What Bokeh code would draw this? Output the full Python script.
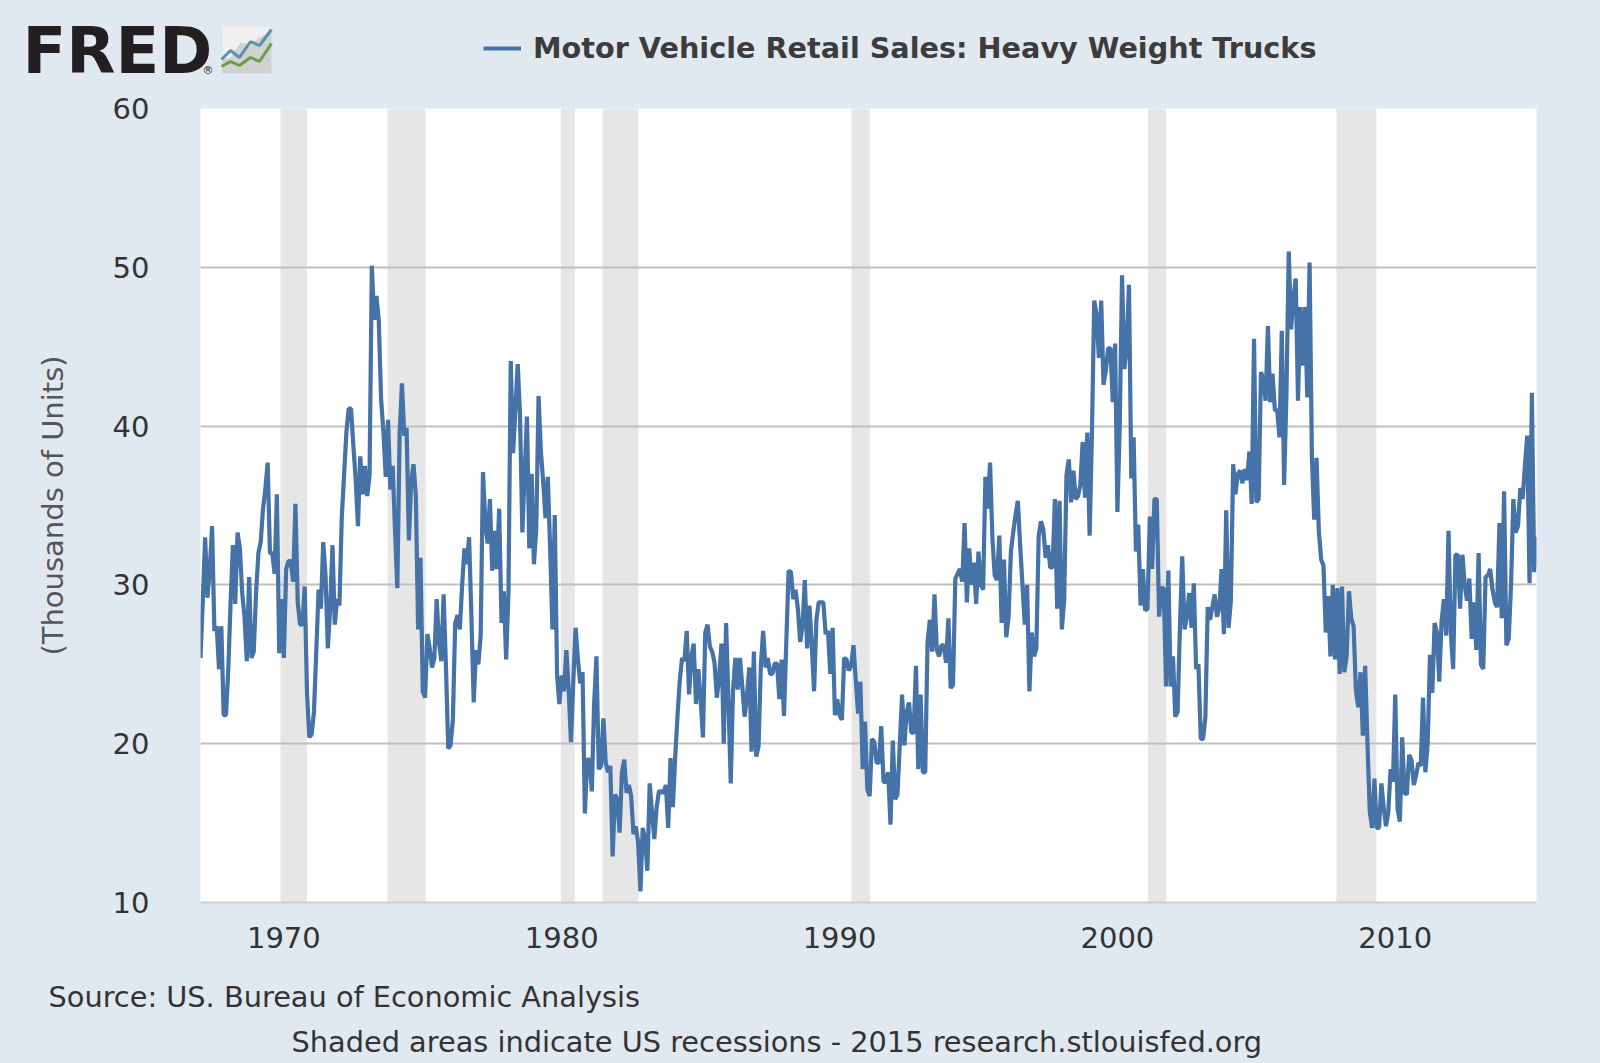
from bokeh.plotting import figure
from bokeh.embed import file_html
from bokeh.resources import INLINE
from bokeh.layouts import column
from bokeh.core.properties import value
from bokeh.models import FixedTicker, Range1d, Legend, LegendItem

title = "Motor Vehicle Retail Sales: Heavy Weight Trucks"
y_label = "(Thousands of Units)"
source = "Source: US. Bureau of Economic Analysis"
note = "Shaded areas indicate US recessions - 2015 research.stlouisfed.org"
x_ticks = [1970, 1980, 1990, 2000, 2010]
y_ticks = [10, 20, 30, 40, 50, 60]
start_year = 1967

rec_start = [1969.88, 1973.73, 1979.97, 1981.47, 1990.43, 2001.10, 2007.88]
rec_end = [1970.83, 1975.10, 1980.47, 1982.76, 1991.10, 2001.76, 2009.32]

s1 = [25.4,29.0,33.0,29.2,31.0,33.7,27.1,27.4,24.7,27.4,
      21.8,21.8,24.7,28.9,32.5,28.8,33.3,32.3,29.5,28.0,
      25.2,30.5,25.4,25.8,29.5,32.0,32.7,34.8,36.0,37.7,
      32.0,32.0,30.7,35.7,25.7,29.1,25.4,31.0,31.5,31.5,
      30.2,35.1,28.9,27.5,27.5,29.9,23.2,20.4,20.6,22.0,
      25.8,29.7,28.5,32.7,30.6,26.0,28.5,32.5,27.5,29.1,
      28.7,34.2,36.9,39.6,41.1,41.1,38.8,36.7,33.7,38.1,
      35.7,37.5,35.6,36.9,50.1,46.7,48.2,46.6,41.7,39.6,
      36.8,40.4,36.0]
s2 = [37.5,33.5,29.8,39.5,42.7,39.4,39.9,32.8,36.5,37.6,
      35.6,27.2,31.7,23.3,22.9,26.9,26.0,24.8,25.4,29.1,
      26.4,25.2,29.4,24.9,19.7,19.9,21.5,27.6,28.1,27.2,
      30.0,32.3,31.3,33.0,28.0,22.6,25.9,25.0,26.8,37.1,
      34.0,32.6,35.4,30.9,33.4,31.0,34.8,27.6,29.6,25.3,
      29.5,44.1,38.3,41.0,43.9,40.7,33.3,37.0,40.6,32.3,
      37.0,31.3,33.5,41.9,38.4,36.5,34.2,36.8,32.3,27.2,
      34.4,24.3,22.5,24.3,23.3,25.9,23.4,20.1,23.9,27.3,
      25.3,23.8]
s3 = [24.5,15.6,19.0,19.0,17.0,22.5,25.5,18.4,18.6,21.6,
      18.8,18.2,18.6,12.9,16.8,16.5,14.4,18.2,19.0,16.9,
      17.4,16.7,14.3,14.8,13.8,10.7,14.7,14.0,12.0,17.5,
      15.7,14.0,16.0,17.0,17.0,16.9,17.4,14.7,19.1,16.0,
      19.1,21.7,24.0,25.4,25.2,27.1,23.1,25.5,26.3,22.5,
      24.7,22.8,20.4,27.0,27.5,26.1,25.8,25.1,22.9,24.2,
      26.3,20.0,27.6,22.8,17.5,23.4,25.4,23.4,25.4,23.6,
      21.7,23.0,24.8,19.5,25.8,19.2,19.8,24.9,27.1,24.8,
      25.4,24.4]
s4 = [24.4,25.05,25.05,22.8,25.3,21.75,26.4,30.9,30.8,29.1,
      29.7,28.5,26.4,27.4,30.3,26.0,28.7,26.2,23.3,27.8,
      28.9,28.9,28.9,26.9,27.1,24.4,27.3,21.8,22.8,21.8,
      21.5,25.4,25.3,24.6,24.9,26.2,24.0,21.9,23.9,18.4,
      21.4,17.1,16.7,20.3,20.1,18.8,18.8,21.1,17.6,17.6,
      18.2,14.9,20.2,16.5,16.8,19.9,23.1,19.9,22.0,22.6,
      20.7,20.7,24.9,18.4,23.1,18.2,18.2,26.4,27.8,25.8,
      29.4,25.9,25.5,26.2,26.2,25.1,27.9,23.5,23.7,30.4,
      30.7,31.0]
s5 = [30.2,33.9,28.9,32.3,30.0,31.4,28.8,32.1,30.0,29.7,
      36.8,34.8,37.7,33.0,30.6,30.3,33.1,27.6,31.6,26.7,
      28.0,32.1,33.3,34.4,35.3,32.5,30.0,27.5,30.0,23.3,
      27.0,25.5,26.0,33.1,34.0,33.5,31.7,32.5,31.1,31.1,
      35.4,28.5,35.3,27.2,29.0,36.9,37.9,35.2,37.2,35.4,
      35.6,36.3,39.0,35.5,39.6,33.1,39.5,47.9,47.0,44.3,
      47.9,42.6,43.5,44.9,44.9,41.5,45.2,34.6,40.0,49.5,
      43.6,45.0,48.9,36.7,39.3,32.1,33.8,28.7,31.0,28.4,
      28.5,34.3,31.0]
s6 = [35.4,35.4,28.0,29.8,29.8,23.6,30.9,23.6,25.5,21.7,
      22.0,27.3,31.8,27.2,28.0,29.5,27.3,30.1,24.7,25.0,
      20.3,20.3,21.7,28.6,27.8,28.6,29.4,28.0,28.5,31.0,
      26.9,34.7,27.3,29.0,37.6,35.7,37.0,37.2,36.4,37.3,
      36.6,38.4,35.1,45.5,35.2,35.4,43.4,43.0,41.6,46.3,
      41.5,43.3,41.0,41.0,39.3,46.0,36.3,42.0,51.0,46.1,
      48.0,49.3,41.6,47.5,43.8,47.5,41.8,50.3,38.0,34.1,
      38.0,33.4,31.6,31.2,27.0,29.3,25.5,30.0,25.3,29.8,
      24.4]
s7 = [29.9,24.5,25.5,29.6,27.9,27.4,23.4,22.3,24.5,20.5,
      24.9,20.0,15.7,14.7,17.8,14.7,14.7,17.5,16.0,14.8,
      15.7,18.4,17.6,23.1,15.9,15.1,20.4,16.9,16.8,19.3,
      19.0,17.4,18.0,18.8,18.6,22.9,18.2,20.0,25.6,23.2,
      27.6,27.0,23.9,27.7,29.1,26.8,33.4,27.0,24.7,31.9,
      31.9,28.5,31.9,30.0,29.0,30.4,26.6,28.9,25.9,32.0,
      25.0,24.7,30.5,30.6,31.0,29.7,28.9,28.6,33.9,27.9,
      35.9,26.2,26.6,30.0,35.4,33.3,33.7,36.1,35.4,37.5,
      39.4,30.1,42.1,30.8,33.0]
assert [len(s) for s in (s1, s2, s3, s4, s5, s6, s7)] == [83, 82, 82, 82, 83, 81, 85]
values = s1 + s2 + s3 + s4 + s5 + s6 + s7
years = [start_year + i / 12 for i in range(len(values))]

BG = "#e1e9f0"
TXT = "#333333"
FONT = "DejaVu Sans"
LINE = "#4572a7"

# main chart spans y = 90 .. 968 of the page, its frame y = 108 .. 902
p = figure(width=1600, height=878, output_backend="svg", toolbar_location=None,
           x_range=Range1d(years[0], years[-1]), y_range=Range1d(10, 60),
           min_border_left=200, min_border_right=64, min_border_top=18, min_border_bottom=66,
           frame_align=False)
p.background_fill_color = "white"
p.border_fill_color = BG
p.outline_line_color = None

p.quad(left=rec_start, right=rec_end, bottom=y_ticks[0], top=y_ticks[-1],
       fill_color="#e6e6e6", line_color=None, level="image")
p.line(years, values, line_color=LINE, line_width=4.2, line_join="bevel")

xa, ya = p.xaxis[0], p.yaxis[0]
xa.ticker = FixedTicker(ticks=x_ticks)
ya.ticker = FixedTicker(ticks=y_ticks)
xa.axis_line_color = "#c0d0e0"
xa.axis_line_width = 2
ya.axis_line_color = None
for a in (xa, ya):
    a.major_tick_line_color = None
    a.minor_tick_line_color = None
    a.major_label_text_font = FONT
    a.major_label_text_font_size = "29px"
    a.major_label_text_color = TXT
xa.major_label_standoff = 18
ya.major_label_standoff = 45
ya.axis_label = y_label
ya.axis_label_text_font = FONT
ya.axis_label_text_font_size = "29px"
ya.axis_label_text_font_style = "normal"
ya.axis_label_text_color = "#555555"
ya.axis_label_standoff = 40

p.xgrid.visible = False
p.ygrid[0].ticker = FixedTicker(ticks=y_ticks[1:])
p.ygrid[0].grid_line_color = "#c0c0c0"
p.ygrid[0].grid_line_width = 2

def strip(height, ymax, ymin):
    f = figure(width=1600, height=height, output_backend="svg", toolbar_location=None,
               x_range=Range1d(0, 1600), y_range=Range1d(ymax, ymin),
               x_axis_location=None, y_axis_location=None,
               min_border_left=0, min_border_right=0, min_border_top=0, min_border_bottom=0,
               frame_align=False)
    f.background_fill_color = BG
    f.border_fill_color = BG
    f.outline_line_color = None
    f.grid.visible = False
    return f

def put(f, x, y, t, size, color=TXT, style="normal"):
    f.text([x], [y], text=[t], text_font=value(FONT), text_font_size=value(size),
           text_color=color, text_font_style=style, text_baseline="middle", text_align="left")

# header: logo and legend
h = strip(90, 90, 0)
put(h, 22, 50, "FRED", "64px", "#231f20", "bold")
put(h, 202, 70, "®", "11px", "#231f20")
h.patch([222, 271, 271, 222], [26, 26, 73, 73], fill_color="#d0d1d1", line_color=None)
h.patch([222, 271, 271, 248, 240, 230, 222], [26, 26, 30, 44, 42, 57, 59],
        fill_color="#f0f0f0", line_color=None)
logo_x = [221, 230, 239, 250, 259, 271]
h.line(logo_x, [59, 50, 57, 41, 45, 29], line_color="#5b8fae", line_width=3)
h.line(logo_x, [66, 61, 65, 57, 61, 43], line_color="#65a045", line_width=3)

swatch = h.line([483, 520], [48, 48], line_color=LINE, line_width=4, visible=False)
legend = Legend(items=[LegendItem(label=title, renderers=[swatch])],
                location=(479, 21), orientation="horizontal",
                background_fill_alpha=0, border_line_alpha=0,
                label_text_font=FONT, label_text_font_style="bold",
                label_text_font_size="28.7px", label_text_color="#3c3c3c",
                glyph_width=38, glyph_height=20, label_standoff=12, margin=0, padding=4)
h.add_layout(legend, "center")

# footer
g = strip(95, 1063, 968)
put(g, 48, 996, source, "28.8px")
put(g, 291, 1041, note, "28.8px")

page = column(h, p, g, spacing=0)
html = file_html(page, INLINE)
html = html.replace("<body>", '<body style="background:#e1e9f0;margin:0">')
open("out.html", "w").write(html)
